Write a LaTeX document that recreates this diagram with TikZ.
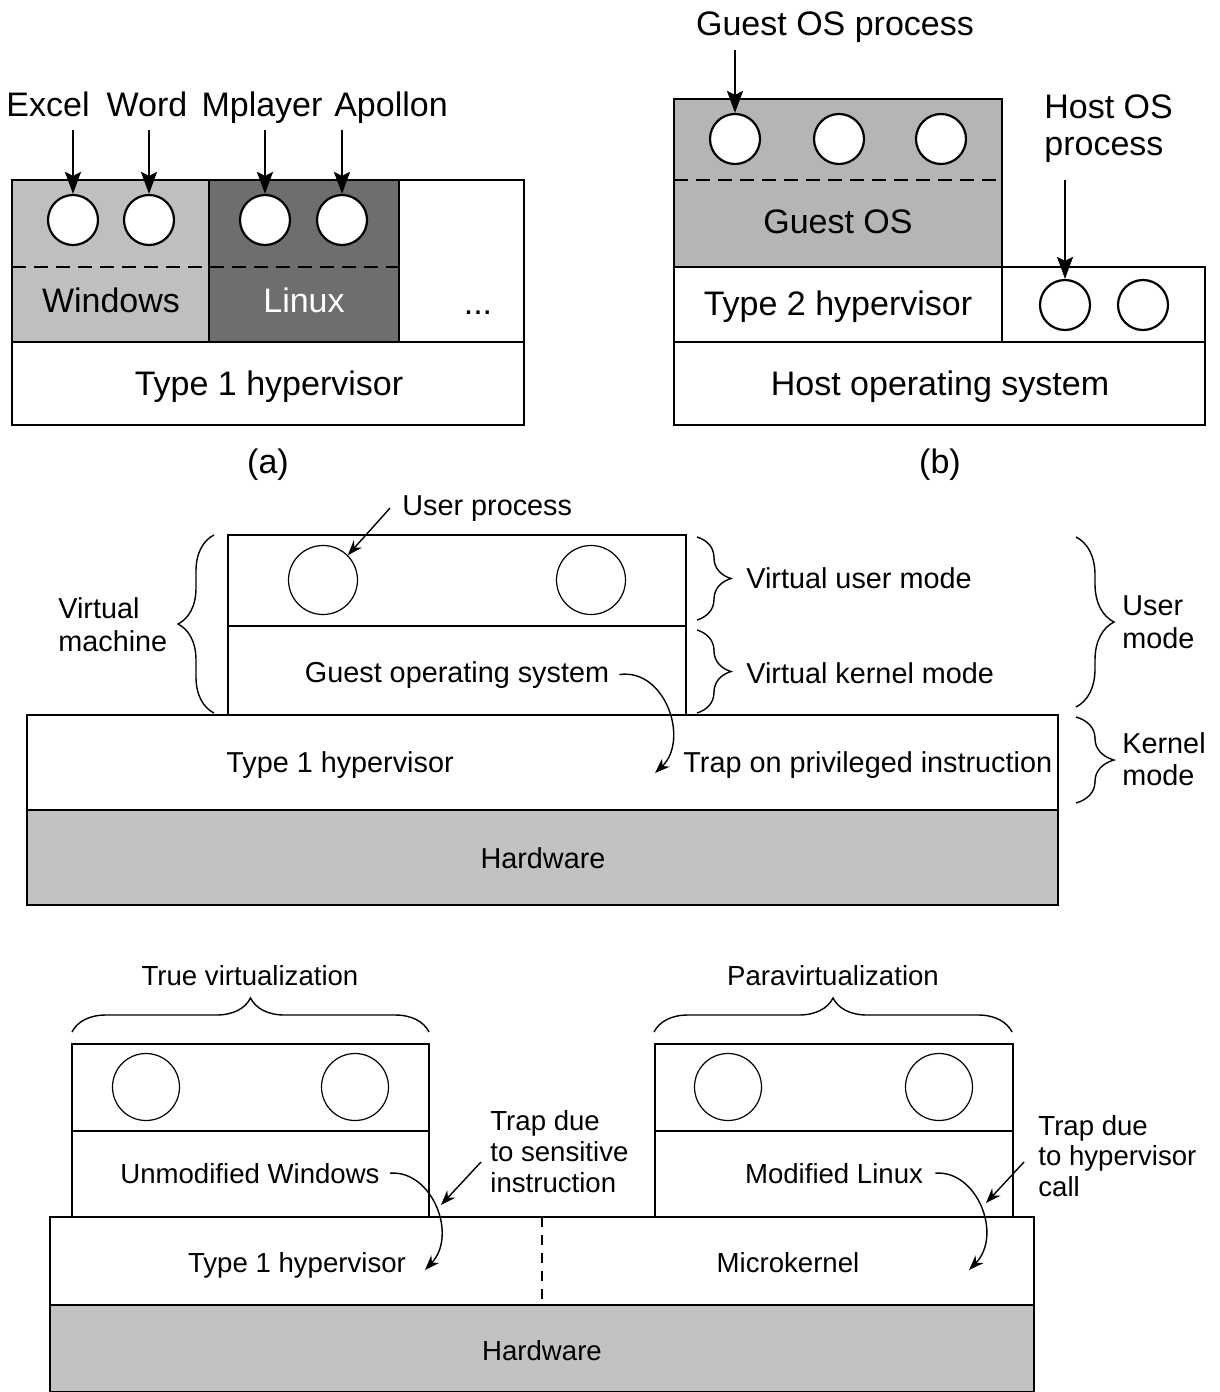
\documentclass[tikz,border=0pt]{standalone}
\usepackage{fontspec}
\setmainfont{Liberation Sans}
\usetikzlibrary{arrows.meta,decorations.pathreplacing}
\definecolor{winfill}{gray}{0.75}
\definecolor{linfill}{gray}{0.43}
\definecolor{guestfill}{gray}{0.71}
\definecolor{hwfill}{gray}{0.76}
\begin{document}
\begin{tikzpicture}[x=0.5pt,y=-0.5pt,
 fA/.style={font=\fontsize{17}{20}\selectfont, inner sep=0pt},
 fB/.style={font=\fontsize{14.4}{17}\selectfont, inner sep=0pt},
 fC/.style={font=\fontsize{13.8}{16}\selectfont, inner sep=0pt},
 lineA/.style={line width=1.1pt},
 lineB/.style={line width=0.8pt},
 procA/.style={circle, draw, line width=1.1pt, fill=white, minimum size=25pt, inner sep=0pt},
 procB/.style={circle, draw, line width=0.6pt, minimum size=34.5pt, inner sep=0pt},
 procC/.style={circle, draw, line width=0.6pt, minimum size=33.5pt, inner sep=0pt},
 arrA/.style={line width=1.1pt, -{Stealth[length=11pt,width=8pt,inset=2pt]}},
 arrB/.style={line width=0.7pt, -{Stealth[length=7.5pt,width=5.5pt]}},
 brc/.style={decorate, decoration={brace, amplitude=#1}, line width=0.7pt},
 dashA/.style={dash pattern=on 7pt off 4pt},
]
\useasboundingbox (0,0) rectangle (1220,1392);

% ---------------- (a) ----------------
\fill[winfill] (12,180) rectangle (209,342);
\fill[linfill] (209,180) rectangle (399,342);
\draw[lineA] (12,180) rectangle (524,425);
\draw[lineA] (12,342) -- (524,342);
\draw[lineA] (209,180) -- (209,342);
\draw[lineA] (399,180) -- (399,342);
\draw[lineA, dashA] (12,267) -- (399,267);
\node[procA] (a1) at (73,220) {};
\node[procA] (a2) at (149,220) {};
\node[procA] (a3) at (265,220) {};
\node[procA] (a4) at (342,220) {};
\node[fA, anchor=base] (excel) at (48,116) {Excel};
\node[fA, anchor=base] (word) at (147,116) {Word};
\node[fA, anchor=base] (mplayer) at (262,116) {Mplayer};
\node[fA, anchor=base] (apollon) at (391,116) {Apollon};
\coordinate (sa1) at (73,130);
\coordinate (sa2) at (149,130);
\coordinate (sa3) at (265,130);
\coordinate (sa4) at (342,130);
\draw[arrA] (sa1) -- (a1.north);
\draw[arrA] (sa2) -- (a2.north);
\draw[arrA] (sa3) -- (a3.north);
\draw[arrA] (sa4) -- (a4.north);
\node[fA, anchor=base] (windows) at (111,312) {Windows};
\node[fA, anchor=base, text=white] (linux) at (304,312) {Linux};
\node[fA, anchor=base] (dots) at (478,314) {...};
\node[fA, anchor=base] (t1a) at (269,395) {Type 1 hypervisor};
\node[fA] (capa) at (268,465) {(a)};

% ---------------- (b) ----------------
\fill[guestfill] (674,99) rectangle (1002,267);
\draw[lineA] (674,99) rectangle (1002,267);
\draw[lineA, dashA] (674,180) -- (1002,180);
\draw[lineA] (674,267) rectangle (1205,342);
\draw[lineA] (1002,267) -- (1002,342);
\draw[lineA] (674,342) rectangle (1205,425);
\node[procA] (b1) at (735,139) {};
\node[procA] (b2) at (839,139) {};
\node[procA] (b3) at (941,139) {};
\node[procA] (h1) at (1065,305) {};
\node[procA] (h2) at (1143,305) {};
\node[fA, anchor=base] (gop) at (835,35) {Guest OS process};
\node[fA, anchor=base west] (hop1) at (1044,118) {Host OS};
\node[fA, anchor=base west] (hop2) at (1044,155) {process};
\coordinate (sb1) at (735,50);
\coordinate (sh1) at (1065,180);
\draw[arrA] (sb1) -- (b1.north);
\draw[arrA] (sh1) -- (h1.north);
\node[fA, anchor=base] (gos) at (838,233) {Guest OS};
\node[fA, anchor=base] (t2) at (838,315) {Type 2 hypervisor};
\node[fA, anchor=base] (hos) at (940,395) {Host operating system};
\node[fA] (capb) at (940,465) {(b)};

% ---------------- middle ----------------
\fill[hwfill] (27,810) rectangle (1058,905);
\draw[lineB] (228,535) rectangle (686,715);
\draw[lineB] (228,626) -- (686,626);
\draw[lineB] (27,715) rectangle (1058,810);
\draw[lineB] (27,810) rectangle (1058,905);
\node[procB] (m1) at (323,580) {};
\node[procB] (m2) at (591,580) {};
\node[fB, anchor=base west] (up) at (402,515) {User process};
\draw[arrB] ([xshift=-6pt]up.west) -- (m1.45);
\node[fB, anchor=base west] (vm1) at (58,618) {Virtual};
\node[fB, anchor=base west] (vm2) at (58,651) {machine};
\node[fB, anchor=base] (gos2) at (457,682) {Guest operating system};
\node[fB, anchor=base west] (vum) at (746,588) {Virtual user mode};
\node[fB, anchor=base west] (vkm) at (746,683) {Virtual kernel mode};
\node[fB, anchor=base west] (um1) at (1122,615) {User};
\node[fB, anchor=base west] (um2) at (1122,648) {mode};
\node[fB, anchor=base west] (km1) at (1122,753) {Kernel};
\node[fB, anchor=base west] (km2) at (1122,785) {mode};
\node[fB, anchor=base] (t1b) at (340,772) {Type 1 hypervisor};
\node[fB, anchor=base west] (trap) at (683,772) {Trap on privileged instruction};
\node[fB, anchor=base] (hw1) at (543,868) {Hardware};
\draw[brc=18pt] (214,713) -- (214,535);
\draw[brc=17pt] (697,537) -- (697,620);
\draw[brc=17pt] (697,630) -- (697,713);
\draw[brc=19pt] (1076,537) -- (1076,707);
\draw[brc=19pt] (1076,717) -- (1076,803);
\coordinate (t1end) at (655,773);
\draw[arrB] ([xshift=5pt]gos2.east) .. controls (665,668) and (690,740) .. (t1end);

% ---------------- bottom ----------------
\fill[hwfill] (50,1305) rectangle (1034,1392);
\draw[lineB] (72,1044) rectangle (429,1217);
\draw[line width=1.3pt] (72,1131) -- (429,1131);
\draw[lineB] (655,1044) rectangle (1013,1217);
\draw[line width=1.3pt] (655,1131) -- (1013,1131);
\draw[lineB] (50,1217) rectangle (1034,1305);
\draw[lineB] (50,1305) rectangle (1034,1392);
\draw[lineB, dash pattern=on 5pt off 4pt] (542,1217) -- (542,1305);
\node[procC] (p1) at (146,1087) {};
\node[procC] (p2) at (355,1087) {};
\node[procC] (q1) at (728,1087) {};
\node[procC] (q2) at (939,1087) {};
\node[fC, anchor=base] (tv) at (250,985) {True virtualization};
\node[fC, anchor=base] (pv) at (833,985) {Paravirtualization};
\draw[brc=17pt] (72,1032) -- (429,1032);
\draw[brc=17pt] (654,1032) -- (1012,1032);
\node[fC, anchor=base] (uw) at (250,1183) {Unmodified Windows};
\node[fC, anchor=base] (ml) at (834,1183) {Modified Linux};
\node[fC, anchor=base west] (td1) at (490,1130) {Trap due};
\node[fC, anchor=base west] (td2) at (490,1161) {to sensitive};
\node[fC, anchor=base west] (td3) at (490,1192) {instruction};
\node[fC, anchor=base west] (th1) at (1038,1135) {Trap due};
\node[fC, anchor=base west] (th2) at (1038,1165) {to hypervisor};
\node[fC, anchor=base west] (th3) at (1038,1196) {call};
\node[fC, anchor=base] (t1c) at (297,1272) {Type 1 hypervisor};
\node[fC, anchor=base] (mk) at (788,1272) {Microkernel};
\node[fC, anchor=base] (hw2) at (542,1360) {Hardware};
\coordinate (uwend) at (425,1270);
\coordinate (mlend) at (969,1270);
\draw[arrB] ([xshift=5pt]uw.east) .. controls (432,1170) and (458,1235) .. (uwend);
\draw[arrB] ([xshift=6pt]ml.east) .. controls (977,1170) and (1003,1235) .. (mlend);
\coordinate (s1) at (481,1162);
\coordinate (e1) at (441,1205);
\coordinate (s2) at (1024,1162);
\coordinate (e2) at (986,1203);
\draw[arrB] (s1) -- (e1);
\draw[arrB] (s2) -- (e2);
\end{tikzpicture}
\end{document}
